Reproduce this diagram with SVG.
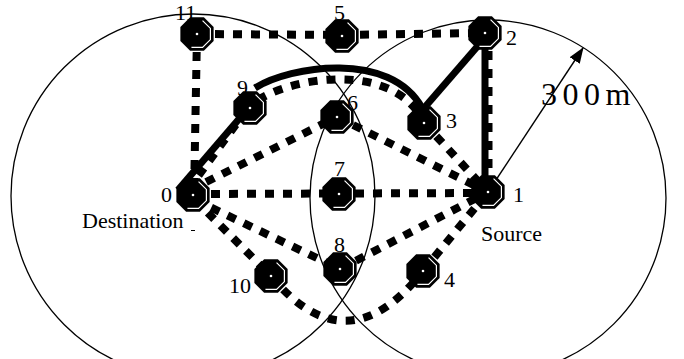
<svg xmlns="http://www.w3.org/2000/svg" xmlns:xlink="http://www.w3.org/1999/xlink" width="684" height="359" viewBox="0 0 684 359">
  <style>
    .range { fill: none; stroke: #000; stroke-width: 1.3; }
    .link { fill: none; stroke: #000; stroke-width: 8; stroke-dasharray: 9 9; }
    .route { fill: none; stroke: #000; stroke-width: 7; }
    .lbl { font-family: "Liberation Serif", "Times New Roman", serif; font-size: 22px; fill: #000; }
    .dist { font-family: "Liberation Serif", "Times New Roman", serif; font-size: 32px; letter-spacing: 5.5px; fill: #000; }
  </style>
  <defs>
    <g id="mote">
      <polygon points="16.63,6.89 6.89,16.63 -6.89,16.63 -16.63,6.89 -16.63,-6.89 -6.89,-16.63 6.89,-16.63 16.63,-6.89" fill="#000"/>
      <polyline points="5.55,-13.4 13.4,-5.55 13.4,5.55 5.55,13.4 -5.55,13.4" fill="none" stroke="#fff" stroke-width="1.2"/>
      <circle r="1.3" fill="#fff"/>
    </g>
    <marker id="arrow" viewBox="0 0 16 12" refX="15" refY="6" markerWidth="16" markerHeight="12" markerUnits="userSpaceOnUse" orient="auto">
      <path d="M0,0 L16,6 L0,12 Z" fill="#000"/>
    </marker>
  </defs>

  <rect width="684" height="359" fill="#fff"/>

  <!-- transmission ranges around destination and source -->
  <g id="ranges">
    <circle class="range" cx="193" cy="196" r="182"/>
    <circle class="range" cx="488" cy="198" r="178"/>
  </g>

  <g id="connectors">
    <!-- dashed links -->
    <line class="link" x1="197" y1="34" x2="342" y2="35"/>
    <line class="link" x1="342" y1="35" x2="485" y2="33"/>
    <line class="link" x1="197" y1="34" x2="194" y2="195"/>
    <line class="link" x1="193" y1="194" x2="488" y2="193"/>
    <line class="link" x1="190" y1="190" x2="337" y2="117"/>
    <line class="link" x1="337" y1="117" x2="488" y2="192"/>
    <line class="link" x1="424" y1="123" x2="488" y2="192"/>
    <line class="link" x1="195" y1="200" x2="340" y2="269"/>
    <line class="link" x1="340" y1="269" x2="488" y2="192"/>
    <line class="link" x1="195" y1="200" x2="271" y2="276"/>
    <path class="link" d="M271,276 Q347,368 423,271"/>
    <line class="link" x1="423" y1="271" x2="488" y2="192"/>
    <line class="link" x1="488.5" y1="33" x2="488.5" y2="192"/>
    <line class="link" x1="188" y1="190" x2="248" y2="108"/>
    <path class="link" d="M258,100 C292,78 385,62 420,115"/>
    <!-- selected route -->
    <line class="route" x1="178" y1="190" x2="245" y2="112"/>
    <path class="route" d="M255,88 C290,66 390,50 422,108"/>
    <line class="route" x1="418" y1="115" x2="483" y2="40"/>
    <line class="route" x1="485" y1="33" x2="485" y2="192"/>
    <!-- radius indicator -->
    <line x1="488" y1="192" x2="583" y2="48" stroke="#000" stroke-width="1.4" marker-end="url(#arrow)"/>
  </g>

  <g id="node11"><use xlink:href="#mote" x="197" y="34"/><text class="lbl" x="175" y="20">11</text></g>
  <g id="node5"><use xlink:href="#mote" x="342" y="36"/><text class="lbl" x="334" y="20">5</text></g>
  <g id="node2"><use xlink:href="#mote" x="485" y="33"/><text class="lbl" x="506" y="45">2</text></g>
  <g id="node9"><use xlink:href="#mote" x="250" y="108"/><text class="lbl" x="237" y="95">9</text></g>
  <g id="node6"><use xlink:href="#mote" x="337" y="117"/><text class="lbl" x="347" y="110">6</text></g>
  <g id="node3"><use xlink:href="#mote" x="424" y="123"/><text class="lbl" x="446" y="128">3</text></g>
  <g id="node0"><use xlink:href="#mote" x="193" y="195"/><text class="lbl" x="161" y="202">0</text><text class="lbl" x="82" y="228">Destination</text><line x1="191" y1="230.5" x2="195" y2="230.5" stroke="#000" stroke-width="1"/></g>
  <g id="node7"><use xlink:href="#mote" x="339" y="194"/><text class="lbl" x="334" y="176">7</text></g>
  <g id="node1"><use xlink:href="#mote" x="488" y="192"/><text class="lbl" x="513" y="202">1</text><text class="lbl" x="481" y="241">Source</text></g>
  <g id="node8"><use xlink:href="#mote" x="340" y="269"/><text class="lbl" x="334" y="252">8</text></g>
  <g id="node10"><use xlink:href="#mote" x="271" y="276"/><text class="lbl" x="229" y="293">10</text></g>
  <g id="node4"><use xlink:href="#mote" x="423" y="271"/><text class="lbl" x="444" y="287">4</text></g>

  <text class="dist" x="541" y="105">300m</text>
</svg>
